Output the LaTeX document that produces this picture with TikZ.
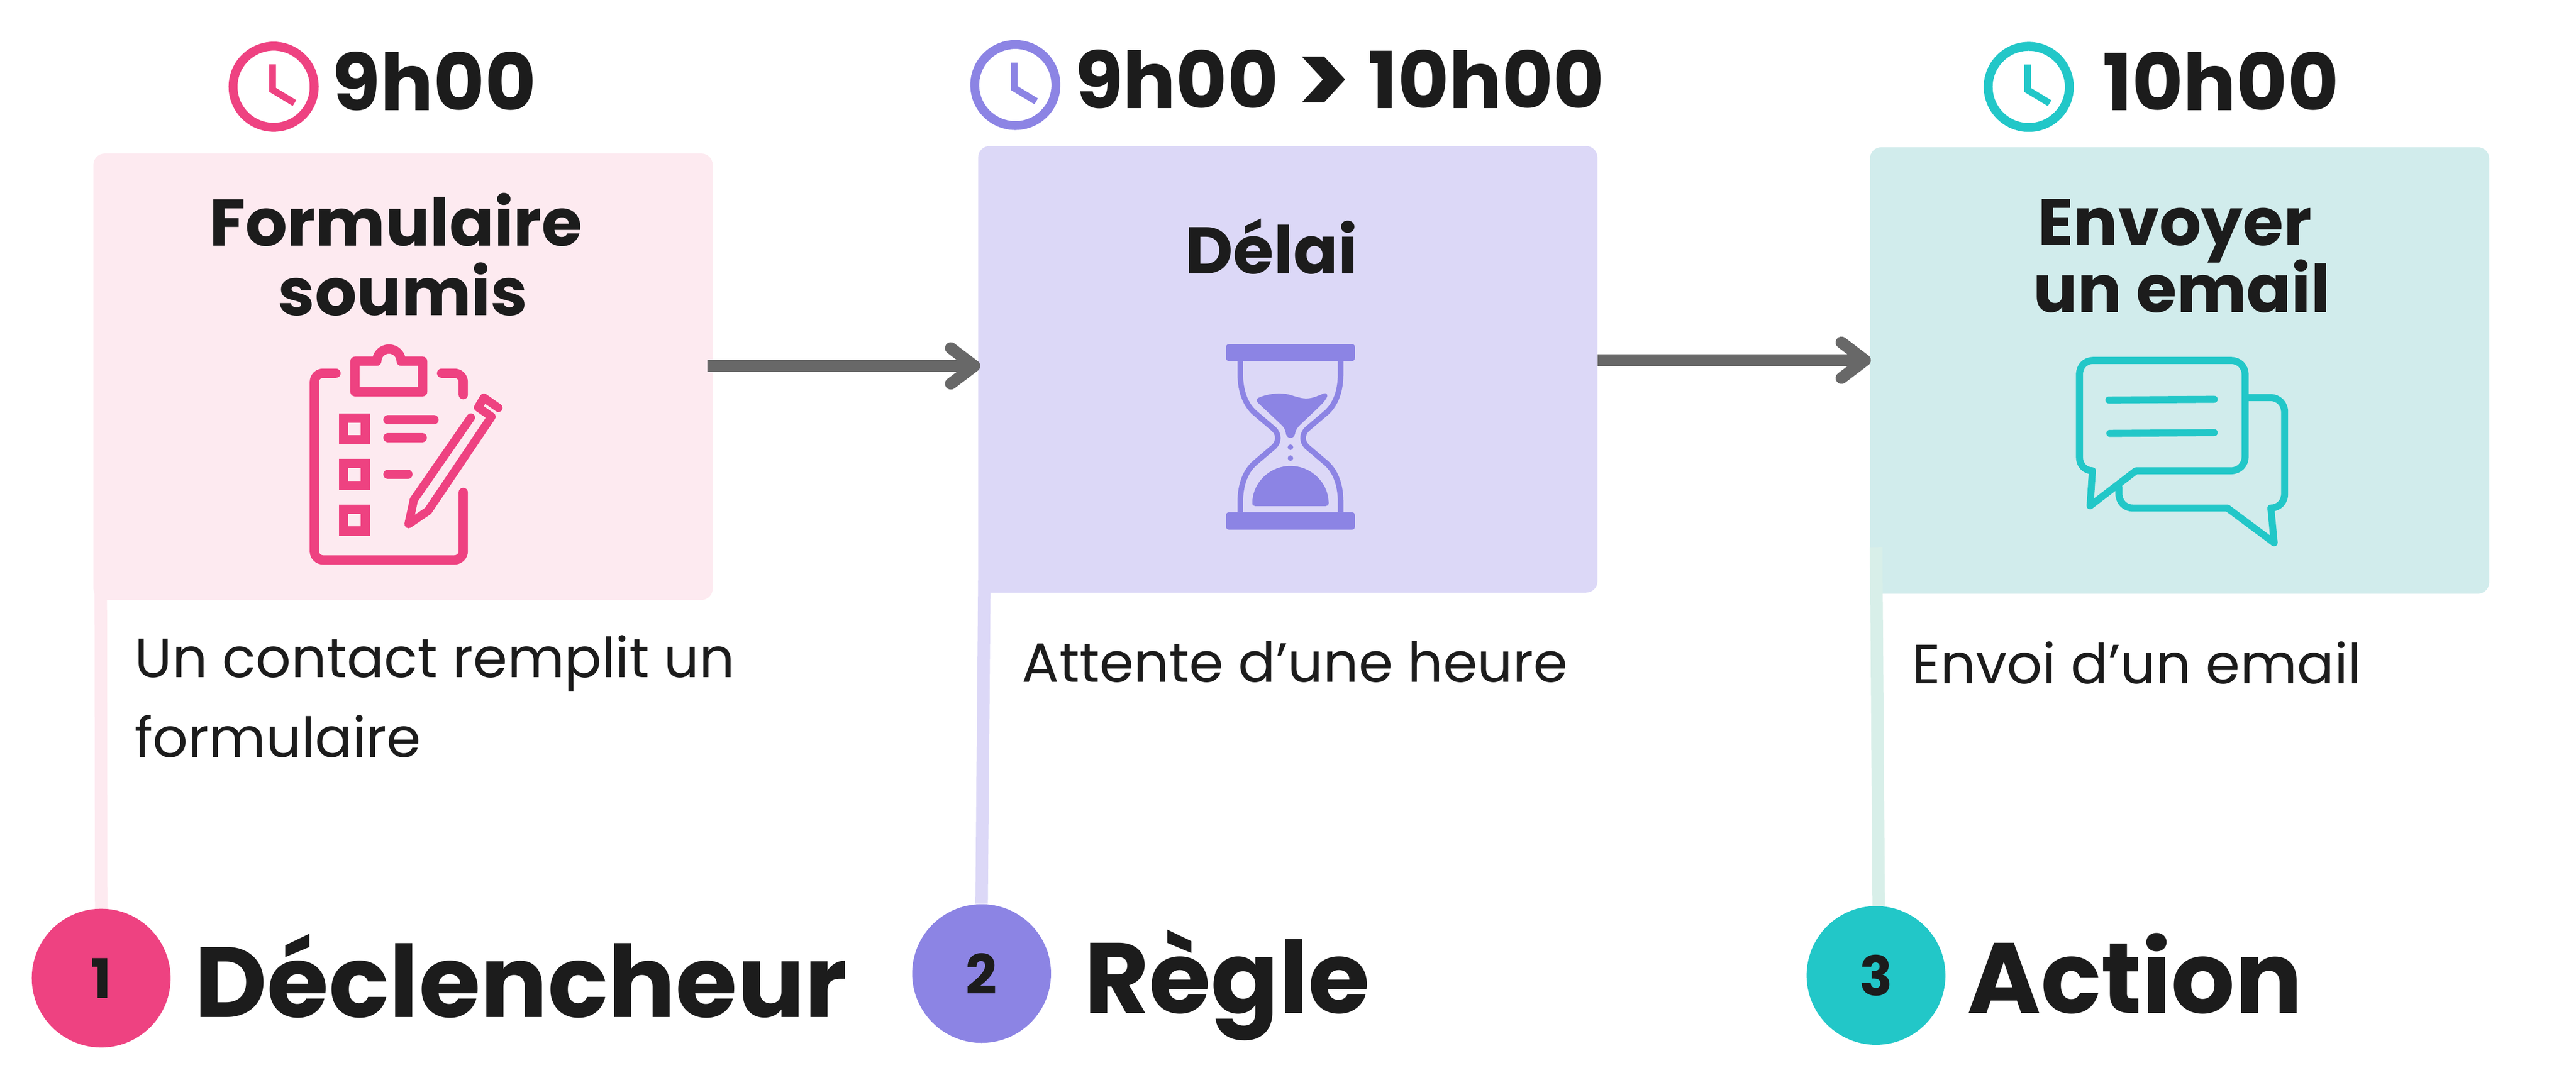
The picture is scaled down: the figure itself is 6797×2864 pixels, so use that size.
\documentclass[tikz,border=0pt]{standalone}
\usepackage{fontspec}
\usepackage{tikz}
\usetikzlibrary{arrows.meta}
\setmainfont{Poppins}

\definecolor{inktext}{HTML}{1C1C1C}
\definecolor{arrowgrey}{HTML}{686868}
\definecolor{pinkmain}{HTML}{EE4281}
\definecolor{pinkpale}{HTML}{FDEAF0}
\definecolor{violetmain}{HTML}{8C84E4}
\definecolor{violetpale}{HTML}{DCD8F7}
\definecolor{tealmain}{HTML}{22C7C8}
\definecolor{tealpale}{HTML}{D1ECEC}
\definecolor{tealstem}{HTML}{D8EFE9}

\tikzset{
  stepbox/.style={rectangle, rounded corners=.3cm, minimum width=16.33cm, minimum height=11.78cm, inner sep=0pt, fill=#1},
  clockring/.style={circle, draw=#1, line width=.235cm, minimum size=2.14cm, inner sep=0pt},
  stepdot/.style={circle, fill=#1, minimum size=3.66cm, inner sep=0pt, text=inktext, font=\bfseries\fontsize{41}{41}\selectfont},
  bigtext/.style={anchor=base west, inner sep=0pt, text=inktext, font=\bfseries\fontsize{75}{75}\selectfont},
  hourtext/.style={anchor=base west, inner sep=0pt, text=inktext, font=\bfseries\fontsize{59}{59}\selectfont},
  titletext/.style={anchor=base, inner sep=0pt, align=center, text=inktext, font=\bfseries\fontsize{49.5}{52}\selectfont},
  bodytext/.style={anchor=base west, inner sep=0pt, align=left, text=inktext, font=\fontsize{41.5}{60}\selectfont},
  flowarrow/.style={draw=arrowgrey, line width=.31cm, -{Straight Barb[round, length=.62cm, width=.94cm]}},
  stemline/.style={draw=#1, line width=.33cm},
  clockhands/.pic={\draw[line width=.18cm, miter limit=20] (-3,-59) -- (-3,8) -- (55,43);}
}

\begin{document}
\begin{tikzpicture}[x=.01cm, y=-.01cm]
\useasboundingbox (0,0) rectangle (6797,2864);

% boxes
\node[stepbox=pinkpale] (form) at (1063.5,994.5) {};
\node[stepbox=violetpale] (delay) at (3398,975) {};
\node[stepbox=tealpale] (mail) at (5751,978) {};

% stems and circles
\node[stepdot=pinkmain] (dotA) at (267,2582) {1};
\node[stepdot=violetmain] (dotB) at (2590,2570) {2};
\node[stepdot=tealmain] (dotC) at (4950,2575) {3};
\draw[stemline=pinkpale] ([shift={(20,-30)}]form.south west) -- (dotA.north);
\draw[stemline=violetpale] ([shift={(17,-34)}]delay.south west) -- (dotB.north);
\draw[stemline=tealstem] ([shift={(17,-124)}]mail.south west) -- ([xshift=2]dotC.north);

% arrows
\draw[flowarrow] ([shift={(-15,-28.5)}]form.east) -- ([shift={(6,-9)}]delay.west);
\draw[flowarrow] ([shift={(0,-24)}]delay.east) -- ([shift={(3,-27)}]mail.west);

% clocks
\node[clockring=pinkmain] (clockA) at (722,229) {};
\node[clockring=violetmain] (clockB) at (2679,224.5) {};
\node[clockring=tealmain] (clockC) at (5353,229.5) {};
\path[draw=pinkmain] (clockA.center) pic {clockhands};
\path[draw=violetmain] (clockB.center) pic {clockhands};
\path[draw=tealmain] (clockC.center) pic {clockhands};

% hours
\node[hourtext] (hourA) at (876,291) {9h00};
\node[hourtext] (hourB) at (2835,286) {9h00 \raisebox{-6pt}{\fontsize{78}{59}\selectfont >} 10h00};
\node[hourtext] (hourC) at (5547,291) {10h00};

% titles
\node[titletext] (titleA) at (1063,832) {Formulaire~\hspace{11pt}\\soumis};
\node[titletext] (titleB) at (3355,722) {Délai};
\node[titletext] (titleC) at (5757,824) {Envoyer~\hspace{11pt}\\[-3.7pt]un email};

% descriptions
\node[bodytext] (textA) at (355,1999) {Un contact remplit un\\formulaire};
\node[bodytext] (textB) at (2696,1800) {Attente d’une heure};
\node[bodytext] (textC) at (5045,1805) {Envoi d’un email};

% big labels
\node[bigtext] (labelA) at (513,2685) {Déclencheur};
\node[bigtext] (labelB) at (2860,2675) {Règle};
\node[bigtext] (labelC) at (5190,2675) {Action};

% clipboard
\begin{scope}[shift={(700,850)}, scale=.4464, draw=pinkmain, line width=.245cm, line cap=round, line join=round]
\draw[rounded corners=.23cm] (418,303) -- (290,303) -- (290,1407) -- (1170,1407) -- (1170,1008);
\draw[rounded corners=.23cm] (1042,303) -- (1170,303) -- (1170,430);
\draw (530,232) -- (659,232) .. controls (659,192) and (691,160) .. (731,160) .. controls (771,160) and (803,192) .. (803,232) -- (930,232) -- (930,413) -- (530,413) -- cycle;
\foreach \boxy in {568,838,1108}
  \draw[line join=miter] (464,\boxy) rectangle ++(128,129);
\draw (725,579) -- (997,579);
\draw (725,684) -- (928,684);
\draw (725,902) -- (843,902);
\draw[line width=.22cm] (1215,565) -- (878,1052) -- (847,1195) -- (962,1117) -- (1337,560) -- (1258,505) -- (1292,448) -- (1378,508);
\end{scope}

% hourglass
\begin{scope}[shift={(3100,850)}, xscale=.3333, yscale=.3827, draw=violetmain, fill=violetmain, line width=.147cm]
\fill[rounded corners=.08cm] (405,152) rectangle (1425,270);
\fill[rounded corners=.08cm] (405,1312) rectangle (1425,1433);
\draw (518,270) -- (518,360) .. controls (518,480) and (560,570) .. (630,625) -- (785,740) .. controls (825,775) and (825,825) .. (785,860) -- (630,975) .. controls (560,1030) and (518,1120) .. (518,1240) -- (518,1312);
\draw (1312,270) -- (1312,360) .. controls (1312,480) and (1270,570) .. (1200,625) -- (1045,740) .. controls (1005,775) and (1005,825) .. (1045,860) -- (1200,975) .. controls (1270,1030) and (1312,1120) .. (1312,1240) -- (1312,1312);
\fill (648,543) .. controls (648,530) and (655,525) .. (665,522) .. controls (720,500) and (830,480) .. (920,505) .. controls (1030,535) and (1060,540) .. (1180,492) .. controls (1195,488) and (1212,500) .. (1206,515) .. controls (1185,550) and (1160,570) .. (1130,595) -- (985,715) .. controls (965,735) and (955,750) .. (950,775) .. controls (945,790) and (930,800) .. (915,800) .. controls (900,800) and (885,790) .. (880,775) .. controls (875,750) and (870,735) .. (850,715) -- (655,555) -- cycle;
\fill (915,864) ellipse [x radius=22, y radius=19.5];
\fill (915,939) ellipse [x radius=22, y radius=19.5];
\fill (613,1250) .. controls (613,1110) and (750,993) .. (915,993) .. controls (1080,993) and (1217,1110) .. (1217,1250) .. controls (1217,1262) and (1207,1270) .. (1195,1270) -- (635,1270) .. controls (623,1270) and (613,1262) .. (613,1250) -- cycle;
\end{scope}

% chat bubbles
\begin{scope}[shift={(5350,880)}, xscale=.5102, yscale=.3827, draw=tealmain, line width=.185cm, line join=round, line cap=round]
\draw (335,948) .. controls (295,948) and (268,905) .. (268,855) -- (268,285) .. controls (268,230) and (295,187) .. (340,187) -- (1052,187) .. controls (1095,187) and (1125,230) .. (1125,285) -- (1125,850) .. controls (1125,905) and (1095,948) .. (1052,948) -- (560,948) -- (323,1190) -- cycle;
\draw (1143,443) -- (1255,443) .. controls (1300,443) and (1329,490) .. (1329,540) -- (1329,1110) .. controls (1329,1160) and (1300,1205) .. (1258,1205) -- (1275,1445) -- (1033,1205) -- (545,1205) .. controls (500,1205) and (472,1160) .. (472,1105) -- (472,1060);
\draw (420,460) -- (965,455);
\draw (425,690) -- (965,685);
\end{scope}
\end{tikzpicture}
\end{document}
